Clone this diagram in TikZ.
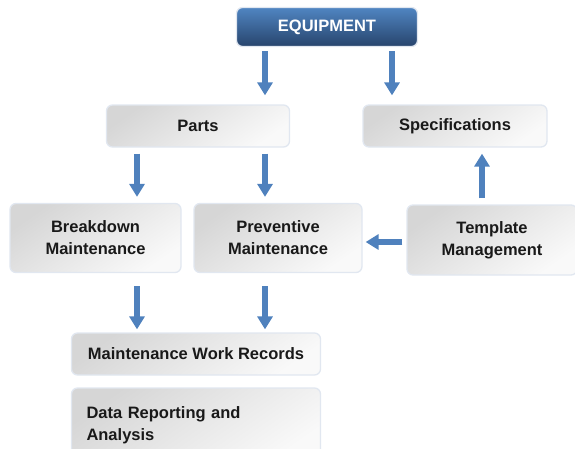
\documentclass[tikz,border=0pt]{standalone}
\usepackage{fontspec}
\setmainfont{Liberation Sans}
\usepackage{xcolor}
\usepackage{tikz}
\usetikzlibrary{arrows.meta}
\definecolor{flowblue}{HTML}{4F81BD}
\definecolor{equiptop}{HTML}{5085C2}
\definecolor{equipbot}{HTML}{27446C}
\definecolor{greytop}{HTML}{D6D6D6}
\definecolor{greybot}{HTML}{F9F9F9}
\definecolor{boxedge}{HTML}{E1E7F0}
\newcommand{\cajatexto}{\fontsize{16.5}{22}\selectfont\bfseries}
\tikzset{
  caja/.style={draw=boxedge, line width=1.3pt, rounded corners=6pt,
    top color=greytop, bottom color=greybot, shading angle=35,
    align=center, font=\cajatexto, text=black!90, inner sep=0pt},
  cajaazul/.style={caja, top color=equiptop, bottom color=equipbot,
    draw=boxedge, text=white},
  flow/.style={draw=flowblue, line width=5.5pt,
    -{Triangle[width=15pt,length=13pt]}}
}

\begin{document}
\begin{tikzpicture}[x=1pt,y=-1pt]
  \useasboundingbox (0,0) rectangle (575,448);
  \node[cajaazul, minimum width=181pt, minimum height=39pt] (equip) at (327,27) {EQUIPMENT};
  \node[caja, minimum width=183pt, minimum height=42pt] (parts) at (198,126) {Parts};
  \node[caja, minimum width=184pt, minimum height=42pt] (specs) at (455,126) {Specifications};
  \node[caja, minimum width=171pt, minimum height=69pt] (brk)   at (95.5,238) {Breakdown\\Maintenance};
  \node[caja, minimum width=168pt, minimum height=69pt] (prev)  at (278,238) {Preventive\\Maintenance};
  \node[caja, minimum width=170pt, minimum height=70pt] (tmpl)  at (492,240) {Template\\Management};
  \node[caja, minimum width=249pt, minimum height=42pt] (recs)  at (196,354) {Maintenance Work Records};
  \node[caja, minimum width=249pt, minimum height=74pt, text width=219pt, align=left] (data) at (196,425) {Data Reporting and\\Analysis};
  \coordinate (c1) at (137,0);
  \coordinate (c2) at (265,0);
  \coordinate (c3) at (392,0);
  \coordinate (c4) at (482,0);
  \coordinate (r1) at (0,242);
  \path ([yshift=-4pt]equip.south -| c2) edge [flow] ([yshift=9pt]parts.north -| c2);
  \path ([yshift=-4pt]equip.south -| c3) edge [flow] ([yshift=9pt]specs.north -| c3);
  \path ([yshift=-6pt]parts.south -| c1) edge [flow] ([yshift=6pt]brk.north -| c1);
  \path ([yshift=-6pt]parts.south -| c2) edge [flow] ([yshift=6pt]prev.north -| c2);
  \path ([yshift=6pt]tmpl.north -| c4) edge [flow] ([yshift=-6pt]specs.south -| c4);
  \path ([xshift=-4pt]tmpl.west |- r1) edge [flow] ([xshift=3pt]prev.east |- r1);
  \path ([yshift=-13pt]brk.south -| c1) edge [flow] ([yshift=3pt]recs.north -| c1);
  \path ([yshift=-13pt]prev.south -| c2) edge [flow] ([yshift=3pt]recs.north -| c2);
\end{tikzpicture}
\end{document}
